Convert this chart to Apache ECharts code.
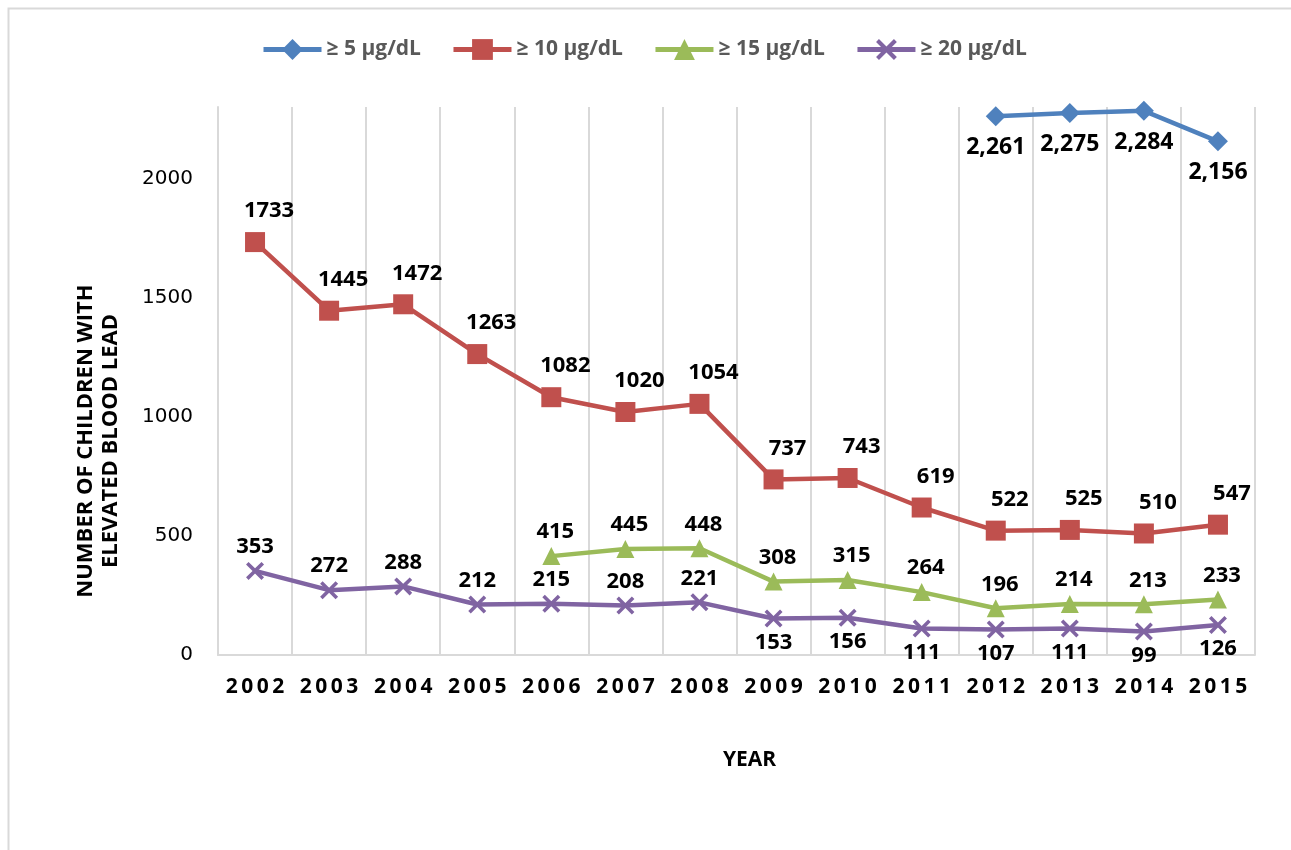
<!DOCTYPE html>
<html>
<head>
    <meta charset="utf-8">
    <title>Elevated blood lead</title>
    <script src="https://cdn.jsdelivr.net/npm/echarts@6/dist/echarts.min.js"></script>
    <style>
        html, body { margin: 0; padding: 0; background: #fff; }
        #chart { width: 1291px; height: 850px; }
    </style>
</head>
<body>
<div id="chart"></div>
<script>
    // data
    var years = ['2002','2003','2004','2005','2006','2007','2008','2009','2010','2011','2012','2013','2014','2015'];
    var seriesNames = ['≥ 5 µg/dL', '≥ 10 µg/dL', '≥ 15 µg/dL', '≥ 20 µg/dL'];
    var ge5  = [null,null,null,null,null,null,null,null,null,null,2261,2275,2284,2156];
    var ge10 = [1733,1445,1472,1263,1082,1020,1054,737,743,619,522,525,510,547];
    var ge15 = [null,null,null,null,415,445,448,308,315,264,196,214,213,233];
    var ge20 = [353,272,288,212,215,208,221,153,156,111,107,111,99,126];
    var yTicks = [0, 500, 1000, 1500, 2000];

    var FONT = '"Open Sans", sans-serif';
    var xMark = 'path://M0,1.4 L1.4,0 L5,3.6 L8.6,0 L10,1.4 L6.4,5 L10,8.6 L8.6,10 L5,6.4 L1.4,10 L0,8.6 L3.6,5 Z';

    var labelBase = {
        show: true,
        color: '#000',
        fontFamily: FONT,
        fontWeight: 'bold',
        fontSize: 22
    };

    function withLabel(extra) {
        var o = {};
        for (var k in labelBase) o[k] = labelBase[k];
        for (var j in extra) o[j] = extra[j];
        return o;
    }

    var chart = echarts.init(document.getElementById('chart'));

    var option = {
        animation: false,
        backgroundColor: '#fff',
        legend: {
            top: 34,
            left: 256,
            itemWidth: 58,
            itemHeight: 26,
            itemGap: 30,
            lineStyle: { width: 5 },
            textStyle: { color: '#595959', fontFamily: FONT, fontWeight: 'bold', fontSize: 21 },
            data: seriesNames
        },
        grid: { left: 218, right: 36, top: 107, bottom: 195 },
        xAxis: {
            type: 'category',
            data: years,
            boundaryGap: true,
            axisLine: { show: true, lineStyle: { color: '#d9d9d9', width: 2 } },
            axisTick: { show: false },
            splitLine: { show: true, interval: 0, lineStyle: { color: '#d9d9d9', width: 2 } },
            axisLabel: {
                interval: 0,
                margin: 22,
                color: '#000',
                fontFamily: FONT,
                fontWeight: 'bold',
                fontSize: 21,
                formatter: function (v) { return v.split('').join('\u2009'); }
            },
            name: 'YEAR',
            nameLocation: 'middle',
            nameGap: 95,
            nameTextStyle: { color: '#000', fontFamily: FONT, fontWeight: 'bold', fontSize: 21, padding: [0, 0, 0, 26] }
        },
        yAxis: {
            type: 'value',
            min: 0,
            max: 2300,
            interval: 500,
            axisLine: { show: true, lineStyle: { color: '#d9d9d9', width: 2 } },
            axisTick: { show: false },
            splitLine: { show: false },
            axisLabel: {
                margin: 25,
                color: '#000',
                fontFamily: '"DejaVu Sans", sans-serif',
                fontSize: 20,
                formatter: function (v) { return yTicks.indexOf(v) >= 0 ? String(v) : ''; }
            }
        },
        graphic: [
            {
                type: 'rect',
                shape: { x: 8.5, y: 8.5, width: 1400, height: 1000 },
                style: { fill: 'none', stroke: '#d9d9d9', lineWidth: 2 },
                silent: true
            },
            {
                type: 'text',
                x: 98,
                y: 441,
                rotation: Math.PI / 2,
                style: {
                    text: 'NUMBER OF CHILDREN WITH\nELEVATED BLOOD LEAD',
                    fill: '#000',
                    font: 'bold 22px "Open Sans", sans-serif',
                    align: 'center',
                    verticalAlign: 'middle',
                    lineHeight: 25
                }
            }
        ],
        series: [
            {
                name: seriesNames[0],
                type: 'line',
                data: ge5,
                color: '#4F81BD',
                lineStyle: { width: 4.5 },
                symbol: 'diamond',
                symbolSize: 20,
                label: withLabel({
                    position: 'bottom', distance: 10, fontSize: 23,
                    formatter: function (p) { return p.value.toLocaleString('en-US'); }
                })
            },
            {
                name: seriesNames[1],
                type: 'line',
                data: ge10,
                color: '#C0504D',
                lineStyle: { width: 4.5 },
                symbol: 'rect',
                symbolSize: 20,
                label: withLabel({ position: 'top', distance: 10, offset: [14, 0] })
            },
            {
                name: seriesNames[2],
                type: 'line',
                data: ge15,
                color: '#9BBB59',
                lineStyle: { width: 4.5 },
                symbol: 'triangle',
                symbolSize: 18,
                label: withLabel({ position: 'top', distance: 4, offset: [4, 0] })
            },
            {
                name: seriesNames[3],
                type: 'line',
                data: ge20.map(function (v, i) {
                    return { value: v, label: { position: i < 7 ? 'top' : 'bottom' } };
                }),
                color: '#8064A2',
                lineStyle: { width: 4.5 },
                symbol: xMark,
                symbolSize: 18,
                label: withLabel({ position: 'top', distance: 4 })
            }
        ]
    };

    chart.setOption(option);
</script>
</body>
</html>
